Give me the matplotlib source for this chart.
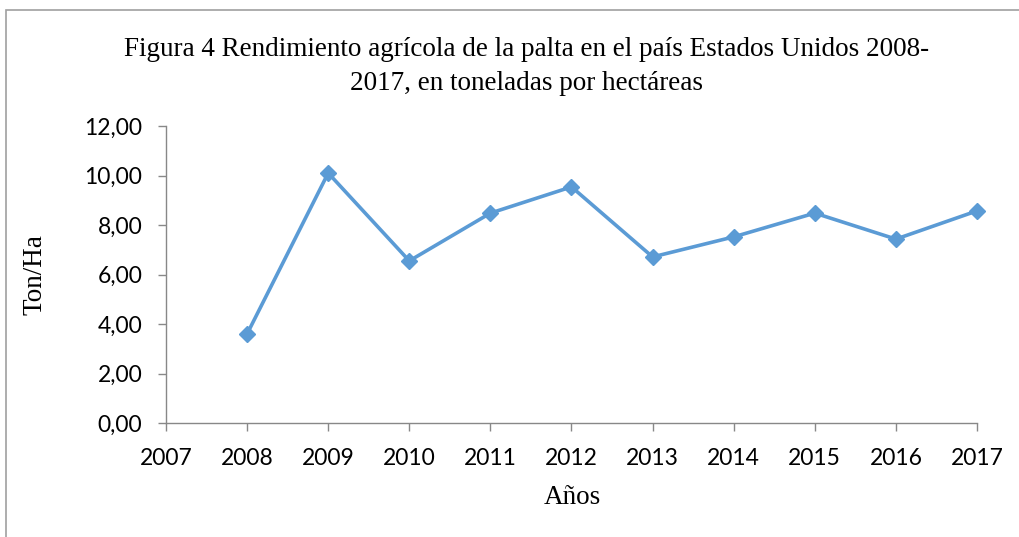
import numpy as np
import matplotlib.pyplot as plt
from matplotlib.patches import Rectangle

# datos del gráfico
anios = [2008, 2009, 2010, 2011, 2012, 2013, 2014, 2015, 2016, 2017]
rendimiento = [3.60, 10.10, 6.55, 8.48, 9.54, 6.71, 7.52, 8.48, 7.43, 8.57]
ticks_x = list(range(2007, 2018))
ticks_y = [0, 2, 4, 6, 8, 10, 12]

W, H = 1020, 537
fig = plt.figure(figsize=(W / 100, H / 100), dpi=100)
ax = fig.add_axes([166 / W, 1 - 423 / H, (977 - 166) / W, (423 - 126) / H])

azul = '#5B9BD5'
gris = '#888888'
ax.plot(anios, rendimiento, color=azul, lw=2.6, marker='D', ms=8, mec=azul, mfc=azul,
        clip_on=False)

ax.set_xlim(2007, 2017)
ax.set_ylim(0, 12)
ax.set_xticks(ticks_x)
ax.set_yticks(ticks_y)
ax.set_yticklabels([f'{v:.2f}'.replace('.', ',') for v in ticks_y])

for s in ['top', 'right']:
    ax.spines[s].set_visible(False)
for s in ['left', 'bottom']:
    ax.spines[s].set_color(gris)
    ax.spines[s].set_linewidth(1.0)
ax.tick_params(axis='both', color=gris, length=6, width=1, labelsize=16.5)
ax.tick_params(axis='x', pad=12)
ax.tick_params(axis='y', pad=11)
for lab in ax.get_xticklabels() + ax.get_yticklabels():
    lab.set_family('Lato')

serif = 'Liberation Serif'
fig.text(527 / W, 1 - 50 / H, 'Figura 4 Rendimiento agrícola de la palta en el país Estados Unidos 2008-',
         ha='center', va='center', fontsize=19.5, family=serif)
fig.text(527 / W, 1 - 83 / H, '2017, en toneladas por hectáreas',
         ha='center', va='center', fontsize=19.5, family=serif)
fig.text(572 / W, 1 - 497 / H, 'Años', ha='center', va='center', fontsize=19.5, family=serif)
fig.text(35 / W, 1 - 275 / H, 'Ton/Ha', ha='center', va='center', rotation=90,
         fontsize=19.5, family=serif)

# marco del gráfico
fig.patches.append(Rectangle((6 / W, -0.1), 1.2, 1 - 10 / H + 0.1, transform=fig.transFigure,
                             fill=False, edgecolor='#A0A0A0', lw=1.2))

fig.savefig('out.png', dpi=100)
